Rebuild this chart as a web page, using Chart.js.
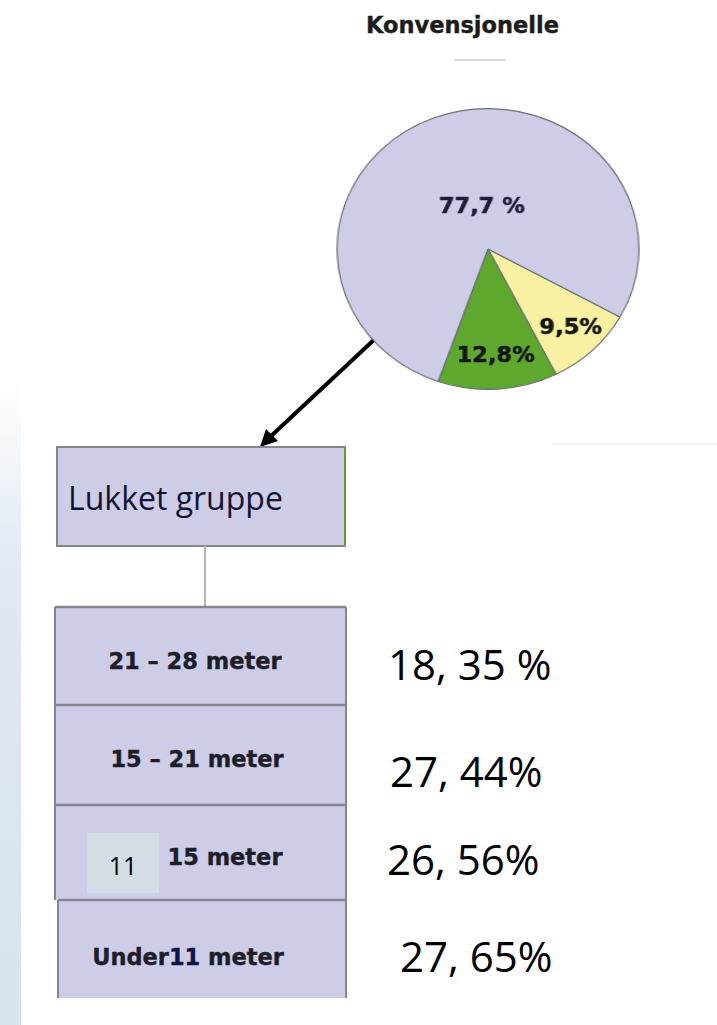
<!DOCTYPE html>
<html>
<head>
<meta charset="utf-8">
<script src="https://cdn.jsdelivr.net/npm/chart.js@4.4.1/dist/chart.umd.min.js"></script>
<style>
    html, body { margin: 0; padding: 0; background: #ffffff; }
    body { width: 717px; height: 1025px; position: relative; overflow: hidden; }
    #edge {
        position: absolute; left: 0; top: 380px; width: 21px; height: 645px;
        background: linear-gradient(to bottom, rgba(221,232,242,0), #dfe9f2 30%, #d6e3ee 100%);
    }
    #diagram { position: absolute; left: 0; top: 0; }
    #pieWrap {
        position: absolute; left: 346px; top: 107px; width: 284px; height: 284px;
        transform: scaleX(1.075); transform-origin: 50% 50%;
    }
</style>
</head>
<body>
<div id="edge"></div>
<svg id="diagram" width="717" height="1025" xmlns="http://www.w3.org/2000/svg"></svg>
<div id="pieWrap"><canvas id="pie"></canvas></div>
<script>
// pie: share of the conventional fleet
const pieLabels = ['9,5%', '12,8%', '77,7 %'];
const pieValues = [9.5, 12.8, 77.7];

// lukket gruppe, length classes and their shares
const groupLabel = 'Lukket gruppe';
const sizeLabels = ['21 – 28 meter', '15 – 21 meter', '15 meter', 'Under11 meter'];
const shareLabels = ['18, 35 %', '27, 44%', '26, 56%', '27, 65%'];
const patchLabel = '11';

const colors = {
    lavender: '#cdcde8',
    green: '#5fa82e',
    yellow: '#f8f1a2',
    border: '#6e6e78',
    boxLine: '#85858f',
    text: '#1e1e2a'
};

// ---- diagram (svg) ----
const svg = document.getElementById('diagram');
const NS = 'http://www.w3.org/2000/svg';
const el = (tag, attrs, text) => {
    const e = document.createElementNS(NS, tag);
    Object.keys(attrs).forEach(k => e.setAttribute(k, attrs[k]));
    if (text != null) e.textContent = text;
    svg.appendChild(e);
    return e;
};

// title + faint scan marks
el('text', { x: 366, y: 33, 'font-family': 'DejaVu Sans', 'font-weight': 'bold', 'font-size': 22.5, fill: '#1c1c1c', stroke: '#1c1c1c', 'stroke-width': 0.4 }, 'Konvensjonelle');
el('line', { x1: 454, y1: 60, x2: 506, y2: 60, stroke: '#d2d2d2', 'stroke-width': 1.5 });
el('line', { x1: 552, y1: 444, x2: 717, y2: 444, stroke: '#e8e8e8', 'stroke-width': 1 });

// arrow from pie to group box
el('line', { x1: 377, y1: 337, x2: 270, y2: 437, stroke: '#000', 'stroke-width': 4 });
el('polygon', { points: '260,447 266,429 278,441', fill: '#000' });

// group box
el('rect', { x: 57, y: 447, width: 288, height: 99, fill: colors.lavender, stroke: colors.boxLine, 'stroke-width': 2 });
el('line', { x1: 345, y1: 449, x2: 345, y2: 545, stroke: '#5e9a34', 'stroke-width': 2 });
el('text', { x: 68, y: 510, 'font-family': 'Open Sans', 'font-size': 32, fill: '#141432' }, groupLabel);

// connector
el('line', { x1: 205, y1: 546, x2: 205, y2: 607, stroke: '#b4b4b4', 'stroke-width': 2 });

// stacked length-class boxes
const rowTop = [607, 705, 805, 900];
const rowBottom = [705, 805, 900, 998];
const labelX = [195, 197, 225, 188];
const labelY = [669, 767, 865, 965];
const shareX = [388, 390, 387, 400];
const shareY = [680, 787, 875, 972];

sizeLabels.forEach((lab, i) => {
    const left = i === 3 ? 58 : 55;
    const top = rowTop[i], h = rowBottom[i] - rowTop[i];
    el('rect', { x: left, y: top, width: 346 - left, height: h, fill: colors.lavender });
    el('line', { x1: left, y1: top, x2: 346, y2: top, stroke: colors.boxLine, 'stroke-width': 2.5 });
    el('line', { x1: left, y1: top, x2: left, y2: top + h, stroke: colors.boxLine, 'stroke-width': 2 });
    el('line', { x1: 346, y1: top, x2: 346, y2: top + h, stroke: colors.boxLine, 'stroke-width': 2 });

    const t = el('text', {
        x: labelX[i], y: labelY[i], 'text-anchor': 'middle',
        'font-family': 'DejaVu Sans', 'font-weight': 'bold', 'font-size': 22.5,
        fill: colors.text, stroke: colors.text, 'stroke-width': 0.4
    });
    if (lab.indexOf('Under11') === 0) {
        const a = document.createElementNS(NS, 'tspan'); a.textContent = 'Under'; t.appendChild(a);
        const b = document.createElementNS(NS, 'tspan'); b.textContent = '11'; b.setAttribute('fill', '#0c1450'); t.appendChild(b);
        const c = document.createElementNS(NS, 'tspan'); c.textContent = ' meter'; t.appendChild(c);
    } else {
        t.textContent = lab;
    }

    el('text', { x: shareX[i], y: shareY[i], 'font-family': 'Open Sans', 'font-size': 42, fill: '#000' }, shareLabels[i]);
});

// pasted patch over the third label
el('rect', { x: 87, y: 833, width: 72, height: 60, fill: '#d6dce4' });
el('text', { x: 123, y: 875, 'text-anchor': 'middle', 'font-family': 'Open Sans', 'font-size': 25, fill: '#000' }, patchLabel);

// ---- pie (chart.js) ----
const labelRadius = [0.79, 0.77, 0.30];
const labelShift = [0, 0, 13]; // degrees

const pieLabelPlugin = {
    id: 'pieLabelPlugin',
    afterDatasetsDraw(chart) {
        const ctx = chart.ctx;
        const meta = chart.getDatasetMeta(0);
        meta.data.forEach((arc, i) => {
            const mid = (arc.startAngle + arc.endAngle) / 2 + labelShift[i] * Math.PI / 180;
            const r = arc.outerRadius * labelRadius[i];
            const x = arc.x + Math.cos(mid) * r;
            const y = arc.y + Math.sin(mid) * r;
            ctx.save();
            ctx.font = 'bold 21px "DejaVu Sans"';
            ctx.fillStyle = i === 2 ? '#1e1e3c' : '#141414';
            ctx.strokeStyle = ctx.fillStyle;
            ctx.lineWidth = 0.5;
            ctx.textAlign = 'center';
            ctx.textBaseline = 'middle';
            ctx.fillText(chart.data.labels[i], x, y);
            ctx.strokeText(chart.data.labels[i], x, y);
            ctx.restore();
        });
    }
};

new Chart(document.getElementById('pie').getContext('2d'), {
    type: 'pie',
    data: {
        labels: pieLabels,
        datasets: [{
            data: pieValues,
            backgroundColor: [colors.yellow, colors.green, colors.lavender],
            borderColor: colors.border,
            borderWidth: 1.2
        }]
    },
    options: {
        responsive: true,
        maintainAspectRatio: false,
        animation: false,
        rotation: 119,
        layout: { padding: 1 },
        plugins: {
            legend: { display: false },
            tooltip: { enabled: false }
        }
    },
    plugins: [pieLabelPlugin]
});
</script>
</body>
</html>
